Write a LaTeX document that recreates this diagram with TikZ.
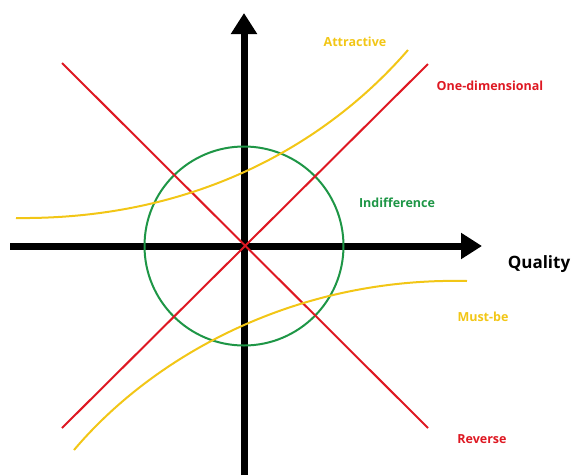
\documentclass[tikz,border=0pt]{standalone}
\usepackage{fontspec}
\setmainfont{Open Sans}
\usetikzlibrary{arrows.meta}
\definecolor{kyellow}{RGB}{242,198,22}
\definecolor{kred}{RGB}{222,24,34}
\definecolor{kgreen}{RGB}{30,150,70}
\begin{document}
\begin{tikzpicture}[x=1pt, y=-1pt,
  axis/.style={line width=7pt,-{Triangle[length=21pt,width=25pt]}},
  curve/.style={line width=2pt},
  lbl/.style={font=\fontsize{12.5}{14}\selectfont\bfseries,inner sep=0pt}]
\useasboundingbox (0,0) rectangle (574,475);
% axes
\coordinate (o) at (244,246);
\coordinate (xl) at (10,246);
\coordinate (xr) at (482,246);
\coordinate (yb) at (244,475);
\coordinate (yt) at (244,13);
\draw[axis] (xl) -- (xr);
\draw[axis] (yb) -- (yt);
% indifference
\draw[curve,kgreen] (o) circle[radius=99.5];
% one-dimensional and reverse
\draw[curve,kred] (62,428) -- (428,64);
\draw[curve,kred] (62,63) -- (428,428);
% attractive and must-be
\draw[curve,kyellow] (16,218) .. controls (200,220) and (330,140) .. (408,50);
\draw[curve,kyellow] (74,450) .. controls (150,360) and (290,277) .. (467,281);
% labels
\node[lbl,text=kyellow] (att) at (355,42) {Attractive};
\node[lbl,text=kred] (one) at (490,86) {One-dimensional};
\node[lbl,text=kgreen] (ind) at (397,203) {Indifference};
\node[lbl,text=kyellow] (must) at (483,317) {Must-be};
\node[lbl,text=kred] (rev) at (482,439) {Reverse};
\node[font=\fontsize{17}{20}\selectfont\bfseries,inner sep=0pt] (qual) at (539,264) {Quality};
\end{tikzpicture}
\end{document}
